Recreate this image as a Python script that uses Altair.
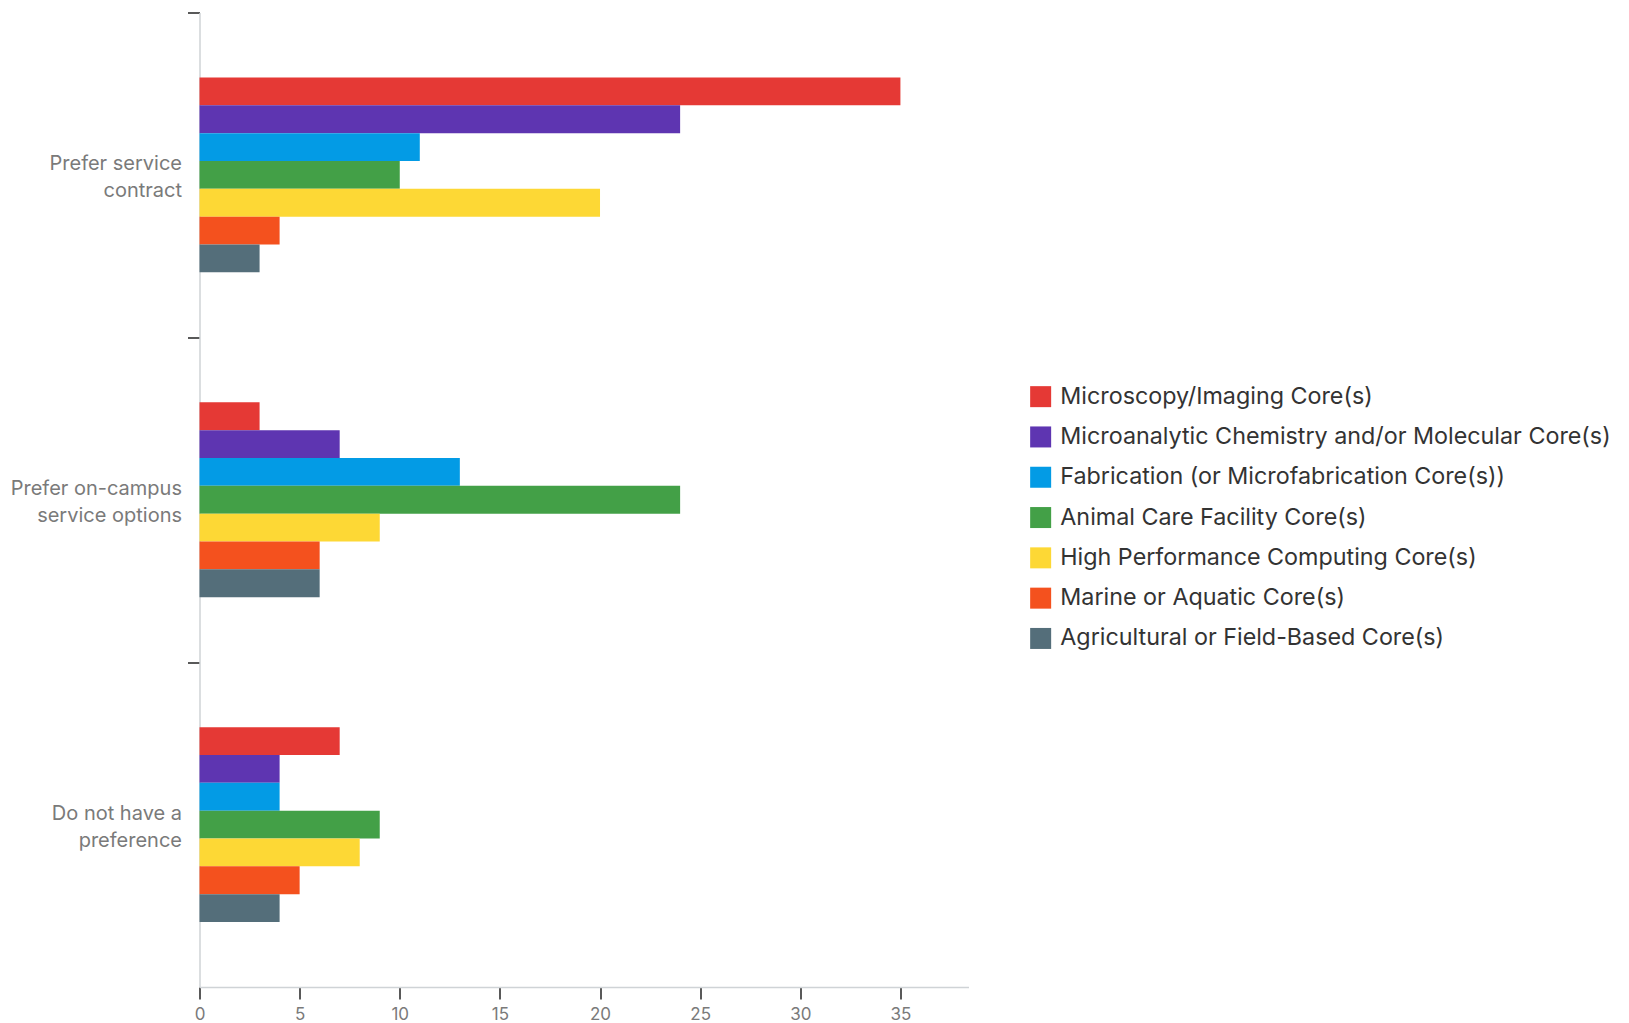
import altair as alt
import pandas as pd

categories = ["Prefer service contract", "Prefer on-campus service options", "Do not have a preference"]
category_lines = [["Prefer service", "contract"], ["Prefer on-campus", "service options"], ["Do not have a", "preference"]]
series = [
    "Microscopy/Imaging Core(s)",
    "Microanalytic Chemistry and/or Molecular Core(s)",
    "Fabrication (or Microfabrication Core(s))",
    "Animal Care Facility Core(s)",
    "High Performance Computing Core(s)",
    "Marine or Aquatic Core(s)",
    "Agricultural or Field-Based Core(s)",
]
colors = ["#E53935", "#5E35B1", "#039BE5", "#43A047", "#FDD835", "#F4511E", "#546E7A"]
values_service_contract = [35, 24, 11, 10, 20, 4, 3]
values_on_campus = [3, 7, 13, 24, 9, 6, 6]
values_no_preference = [7, 4, 4, 9, 8, 5, 4]
x_ticks = [0, 5, 10, 15, 20, 25, 30, 35]

rows = []
for cat, vals in zip(categories, [values_service_contract, values_on_campus, values_no_preference]):
    for s, v in zip(series, vals):
        rows.append({"category": cat, "series": s, "value": v})
df = pd.DataFrame(rows)

label_expr = " : ".join(
    f"datum.label == '{c}' ? {lines!r}" for c, lines in zip(categories, category_lines)
) + " : datum.label"

W = 769
H = 974.5
step = H / 3.0

chart = alt.Chart(df).mark_bar().encode(
    y=alt.Y("category:N", sort=categories, title=None,
            scale=alt.Scale(paddingInner=0.4, paddingOuter=0.2),
            axis=alt.Axis(labelExpr=label_expr, tickOffset=-step / 2, labelOffset=step / 2 - 11.5,
                          tickSize=12, tickColor="#222222", tickWidth=1.5,
                          domainColor="#cfd3d6", domainWidth=1.5,
                          labelColor="#7a7a7a", labelFontSize=20, labelFont="Inter",
                          labelLineHeight=27, labelPadding=6, labelBaseline="middle")),
    yOffset=alt.YOffset("series:N", sort=series),
    x=alt.X("value:Q", title=None,
            scale=alt.Scale(domain=[0, 38.4], nice=False, zero=True),
            axis=alt.Axis(values=x_ticks, tickSize=12, tickColor="#222222", tickWidth=1.5,
                          domainColor="#cfd3d6", domainWidth=1.5, grid=False,
                          labelColor="#7a7a7a", labelFontSize=17, labelFont="Inter",
                          labelPadding=7, labelFlush=False)),
    color=alt.Color("series:N", sort=series,
                    scale=alt.Scale(domain=series, range=colors),
                    legend=alt.Legend(title=None, orient="none", legendX=829.5, legendY=372.5,
                                      symbolType="square", symbolSize=441, symbolStrokeWidth=0,
                                      symbolOpacity=1, labelFontSize=23.3, labelFont="Inter",
                                      labelColor="#333333", rowPadding=16.3, labelOffset=8,
                                      labelLimit=800)),
).properties(
    width=W, height=H,
    autosize=alt.AutoSizeParams(type="none"),
    padding={"left": 191.5, "top": 4.5, "right": 652.5, "bottom": 36},
).configure_view(stroke=None)

chart.save("out.html", embed_options={"renderer": "svg", "actions": False})
